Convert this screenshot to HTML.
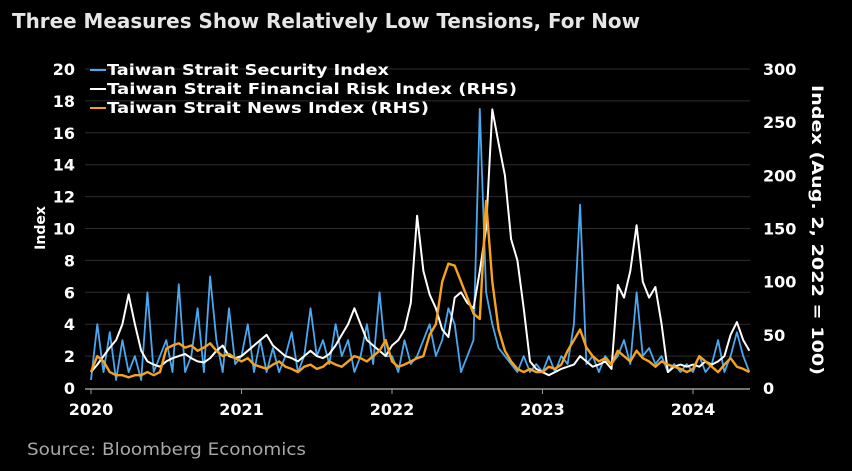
<!DOCTYPE html>
<html><head><meta charset="utf-8"><style>
html,body{margin:0;padding:0;background:#000;width:852px;height:471px;overflow:hidden}
svg{display:block;font-family:"DejaVu Sans","Liberation Sans",sans-serif}
</style></head><body>
<svg id="chart" width="852" height="471">
<text x="12" y="28" fill="#e6e6e6" font-size="20" font-weight="bold" textLength="628" lengthAdjust="spacingAndGlyphs">Three Measures Show Relatively Low Tensions, For Now</text>
<text x="27" y="455" fill="#a8a8a8" font-size="17" textLength="279" lengthAdjust="spacingAndGlyphs">Source: Bloomberg Economics</text>
<text transform="translate(45,228) rotate(-90)" text-anchor="middle" fill="#fff" font-size="14" font-weight="bold">Index</text>
<text transform="translate(812,230) rotate(90)" text-anchor="middle" fill="#fff" font-size="16" font-weight="bold" textLength="290" lengthAdjust="spacingAndGlyphs">Index (Aug. 2, 2022 = 100)</text>
<g id="grid"></g><g id="series"></g><g id="axes"></g>
<g>
<line x1="90" y1="70" x2="106" y2="70" stroke="#4aa8f0" stroke-width="2"/>
<text x="107" y="75" fill="#fff" font-size="15" font-weight="bold" textLength="282" lengthAdjust="spacingAndGlyphs">Taiwan Strait Security Index</text>
<line x1="90" y1="89" x2="106" y2="89" stroke="#fff" stroke-width="2"/>
<text x="107" y="94" fill="#fff" font-size="15" font-weight="bold" textLength="410" lengthAdjust="spacingAndGlyphs">Taiwan Strait Financial Risk Index (RHS)</text>
<line x1="90" y1="108" x2="106" y2="108" stroke="#f7a21b" stroke-width="2"/>
<text x="107" y="113" fill="#fff" font-size="15" font-weight="bold" textLength="322" lengthAdjust="spacingAndGlyphs">Taiwan Strait News Index (RHS)</text>
</g>
</svg>
<script>
const leftTicks=[0,2,4,6,8,10,12,14,16,18,20];
const rightTicks=[0,50,100,150,200,250,300];
const yearTicks=[2020,2021,2022,2023,2024];
const security=[0.5,4,1,3.5,0.5,3,1,2,0.5,6,1,2,3,1,6.5,1,2,5,1,7,3,1,5,1.5,
2,4,1,3,1,2.5,1,2,3.5,1,2,5,2,3,1.5,4,2,3,1,2,4,1.5,6,2,
2,1,3,1.5,2,3,4,2,3,5,4,1,2,3,17.5,6,4,2.5,2,1.5,1,2,1,1.5,
1,2,1,2,1.5,4,11.5,1.5,2,1,2,1.5,2,3,1.5,6,2,2.5,1.5,2,1,1.5,1,1.5,
1,2,1,1.5,3,1,2,3.5,2,1];
const financialRisk=[15,22,30,38,45,60,88,60,35,25,22,20,25,28,30,32,28,25,24,28,35,40,30,28,
30,35,40,45,50,40,35,30,28,25,30,35,30,28,32,40,50,60,75,60,45,40,35,30,
40,45,55,80,162,110,88,75,55,48,85,90,80,75,110,150,262,230,200,140,120,75,25,18,
15,12,15,18,20,22,30,25,20,22,25,18,97,85,110,153,100,85,95,60,15,20,22,20,
22,20,25,22,25,30,50,62,45,35];
const newsIndex=[15,30,25,15,12,12,10,12,12,15,12,15,37,40,42,38,40,35,38,42,35,30,32,28,
25,28,22,20,18,22,25,20,18,15,20,22,18,20,25,22,20,25,30,28,25,30,35,45,
25,20,22,25,28,30,50,60,100,117,115,100,85,70,65,176,100,55,35,25,18,15,18,15,
15,20,18,22,35,45,55,38,30,25,28,22,35,30,25,35,28,25,20,25,22,20,18,15,
18,30,25,20,15,22,28,20,18,15];
const startYear=2020, stepYears=1/24;
const NS="http://www.w3.org/2000/svg";
const X=t=>91+(t-2020)*150.5;
const YL=v=>388-v*15.95;
const YR=v=>388-v*(319/300);
function mk(tag,attrs,parent){const e=document.createElementNS(NS,tag);for(const k in attrs)e.setAttribute(k,attrs[k]);parent.appendChild(e);return e;}
const grid=document.getElementById('grid'),axes=document.getElementById('axes'),series=document.getElementById('series');
leftTicks.forEach(v=>{
 if(v>0){const g=mk('line',{x1:85,x2:750,y1:YL(v),y2:YL(v),stroke:'#2e2e2e','stroke-width':1},grid);
 
 }
 const t=mk('text',{x:75,y:YL(v)+6,'text-anchor':'end',fill:'#fff','font-size':16,'font-weight':'bold'},axes);
 t.textContent=v;
 
 
});
rightTicks.forEach(v=>{
 const t=mk('text',{x:763,y:YR(v)+6,fill:'#fff','font-size':16,'font-weight':'bold'},axes);
 t.textContent=v;
 
 
});
const ax=mk('line',{x1:85,x2:750,y1:389,y2:389,stroke:'#999','stroke-width':1.5},axes);


yearTicks.forEach(y=>{
 const tk=mk('line',{x1:X(y),x2:X(y),y1:389,y2:394,stroke:'#999'},axes);
 
 
 const t=mk('text',{x:X(y),y:415,'text-anchor':'middle',fill:'#fff','font-size':16,'font-weight':'bold'},axes);
 t.textContent=y;
 
 
});
function pts(arr,Y){return arr.map((v,i)=>X(startYear+i*stepYears).toFixed(1)+','+Y(v).toFixed(1)).join(' ');}
const s1=mk('polyline',{points:pts(security,YL),fill:'none',stroke:'#4aa8f0','stroke-width':1.8,'stroke-linejoin':'round'},series);


const s2=mk('polyline',{points:pts(financialRisk,YR),fill:'none',stroke:'#fff','stroke-width':2,'stroke-linejoin':'round'},series);


const s3=mk('polyline',{points:pts(newsIndex,YR),fill:'none',stroke:'#f7a21b','stroke-width':2.4,'stroke-linejoin':'round'},series);


</script>
</body></html>
